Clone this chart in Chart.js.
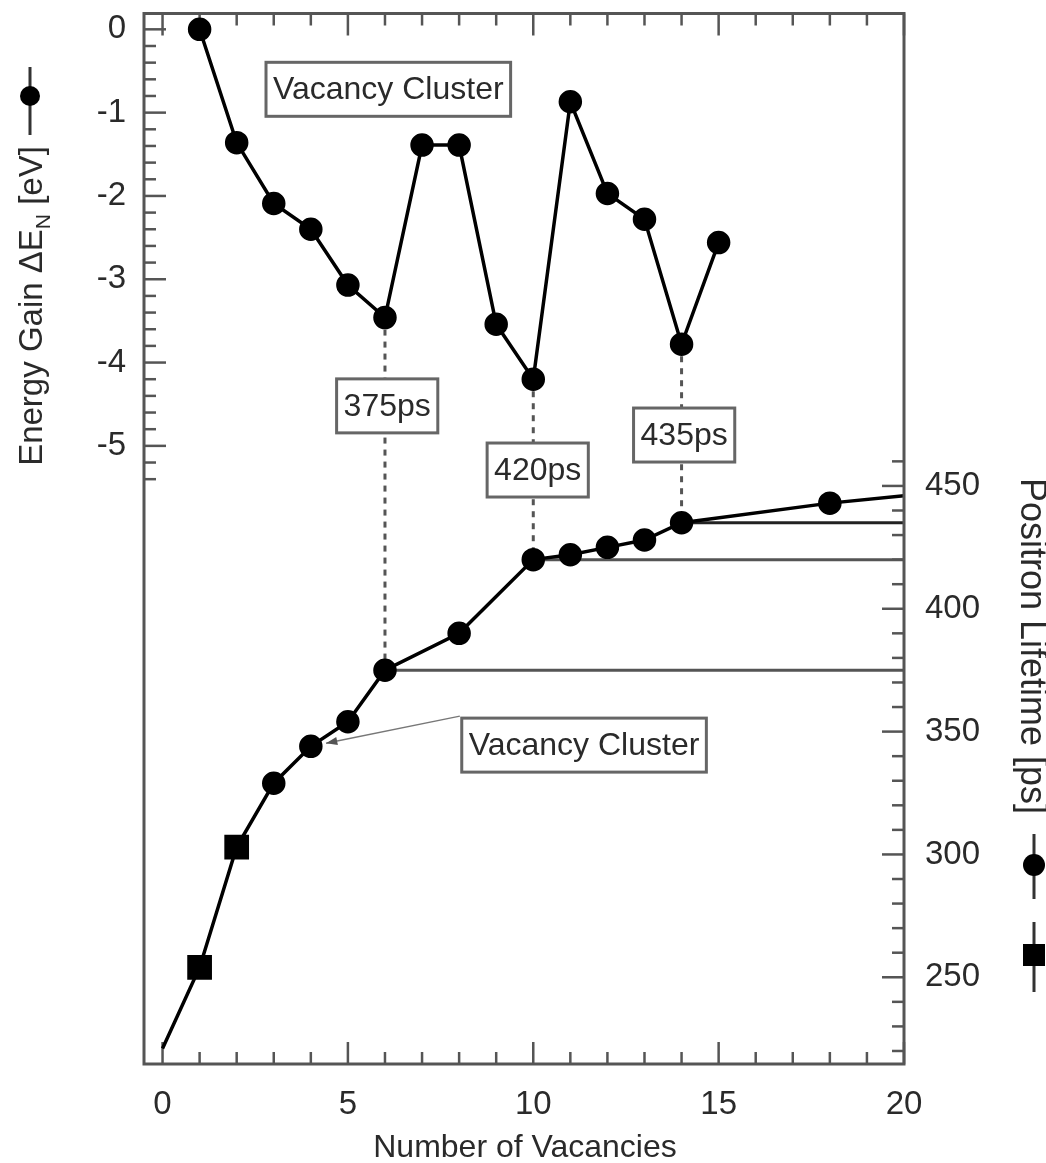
<!DOCTYPE html>
<html>
<head>
<meta charset="utf-8">
<script src="https://cdn.jsdelivr.net/npm/chart.js@4.4.0/dist/chart.umd.min.js"></script>
<style>
  html, body { margin: 0; padding: 0; background: #fff; }
  #c { display: block; }
</style>
</head>
<body>
<canvas id="c" width="1046" height="1163"></canvas>
<script>
// ganancia de energia del cluster (eje izquierdo)
const nEnergia = [1, 2, 3, 4, 5, 6, 7, 8, 9, 10, 11, 12, 13, 14, 15];
const energia = [0, -1.36, -2.09, -2.40, -3.07, -3.46, -1.39, -1.39, -3.54, -4.20, -0.87, -1.97, -2.28, -3.78, -2.56];

// tiempo de vida del positron (eje derecho)
const nVida = [0, 1, 2, 3, 4, 5, 6, 8, 10, 11, 12, 13, 14, 18, 20];
const vida = [221, 254, 303, 329, 344, 354, 375, 390, 420, 422, 425, 428, 435, 443, 446];
const formaVida = ['circle', 'rect', 'rect', 'circle', 'circle', 'circle', 'circle', 'circle',
                   'circle', 'circle', 'circle', 'circle', 'circle', 'circle', 'circle'];

// niveles marcados (ps) y donde empiezan
const nNiveles = [6, 10, 14];
const niveles = [375, 420, 435];
const etiquetasNiveles = ['375ps', '420ps', '435ps'];

// ticks
const ticksX = [0, 5, 10, 15, 20];
const ticksE = [0, -1, -2, -3, -4, -5];
const ticksV = [250, 300, 350, 400, 450];

const fuente = '"Liberation Sans", Arial, Helvetica, sans-serif';
const colorTexto = '#2a2a2a';
const colorMarco = '#555';

const datasets = [
  {
    label: 'Energy',
    yAxisID: 'yE',
    data: nEnergia.map((n, i) => ({ x: n, y: energia[i] })),
    borderColor: '#000',
    backgroundColor: '#000',
    borderWidth: 3.5,
    pointRadius: 10,
    pointStyle: 'circle',
    tension: 0
  },
  {
    label: 'Lifetime',
    yAxisID: 'yL',
    data: nVida.map((n, i) => ({ x: n, y: vida[i] })),
    borderColor: '#000',
    backgroundColor: '#000',
    borderWidth: 3.5,
    pointStyle: formaVida,
    pointRadius: nVida.map((n, i) => (n === 0 || n === 20) ? 0 : (formaVida[i] === 'rect' ? 15 : 10)),
    tension: 0
  }
];
nNiveles.forEach((n, i) => {
  datasets.push({
    label: etiquetasNiveles[i],
    yAxisID: 'yL',
    data: [{ x: n, y: niveles[i] }, { x: 20, y: niveles[i] }],
    borderColor: i === 2 ? '#222' : '#555',
    borderWidth: 3,
    pointRadius: 0
  });
});

// cajas de texto, en coordenadas de datos
const cajas = [
  { texto: 'Vacancy Cluster', x: 6.09, y: -0.72, eje: 'yE' },
  { texto: '375ps', x: 6.06, y: -4.52, eje: 'yE' },
  { texto: '420ps', x: 10.12, y: -5.29, eje: 'yE' },
  { texto: '435ps', x: 14.07, y: -4.87, eje: 'yE' },
  { texto: 'Vacancy Cluster', x: 11.37, y: 344.5, eje: 'yL' }
];
const flecha = { x0: 8.02, y0: 356.3, x1: 4.41, y1: 345.3 };

function rango(desde, hasta, paso) {
  const r = [];
  for (let v = desde; v <= hasta + 1e-9; v += paso) r.push(Math.round(v * 100) / 100);
  return r;
}

function marca(ctx, x0, y0, x1, y1) {
  ctx.beginPath();
  ctx.moveTo(x0, y0);
  ctx.lineTo(x1, y1);
  ctx.stroke();
}

function sinRelleno(s) {
  s.paddingTop = 0;
  s.paddingBottom = 0;
  s.paddingLeft = 0;
  s.paddingRight = 0;
}

const marco = {
  id: 'marco',
  beforeDatasetsDraw(chart) {
    const ctx = chart.ctx;
    const a = chart.chartArea;
    const sx = chart.scales.x, sE = chart.scales.yE, sL = chart.scales.yL;
    ctx.save();
    ctx.strokeStyle = colorMarco;
    ctx.lineWidth = 2.5;
    // eje x abajo y arriba
    rango(0, 20, 1).forEach(v => {
      const p = sx.getPixelForValue(v);
      const l = v % 5 === 0 ? 22 : 12;
      marca(ctx, p, a.bottom, p, a.bottom - l);
      marca(ctx, p, a.top, p, a.top + l);
    });
    // eje energia
    rango(0, 5.4, 0.2).forEach(v => {
      const p = sE.getPixelForValue(-v);
      const l = Math.abs(v - Math.round(v)) < 1e-6 ? 22 : 12;
      marca(ctx, a.left, p, a.left + l, p);
    });
    // eje tiempo de vida
    rango(220, 460, 10).forEach(v => {
      const p = sL.getPixelForValue(v);
      const l = v % 50 === 0 ? 22 : 12;
      marca(ctx, a.right, p, a.right - l, p);
    });
    // lineas discontinuas entre ambos graficos
    ctx.setLineDash([6, 6]);
    ctx.strokeStyle = '#555';
    ctx.lineWidth = 3;
    nNiveles.forEach((n, i) => {
      const px = sx.getPixelForValue(n);
      const y0 = sE.getPixelForValue(energia[nEnergia.indexOf(n)]);
      const y1 = sL.getPixelForValue(niveles[i]);
      marca(ctx, px, y0, px, y1);
    });
    ctx.restore();
  },
  afterDatasetsDraw(chart) {
    const ctx = chart.ctx;
    const a = chart.chartArea;
    const sx = chart.scales.x;
    ctx.save();
    // flecha hacia el cluster
    const fx0 = sx.getPixelForValue(flecha.x0), fy0 = chart.scales.yL.getPixelForValue(flecha.y0);
    const fx1 = sx.getPixelForValue(flecha.x1), fy1 = chart.scales.yL.getPixelForValue(flecha.y1);
    ctx.strokeStyle = '#777';
    ctx.lineWidth = 1.5;
    marca(ctx, fx0, fy0, fx1, fy1);
    const ang = Math.atan2(fy1 - fy0, fx1 - fx0);
    ctx.fillStyle = '#555';
    ctx.beginPath();
    ctx.moveTo(fx1, fy1);
    ctx.lineTo(fx1 - 12 * Math.cos(ang - 0.35), fy1 - 12 * Math.sin(ang - 0.35));
    ctx.lineTo(fx1 - 12 * Math.cos(ang + 0.35), fy1 - 12 * Math.sin(ang + 0.35));
    ctx.closePath();
    ctx.fill();

    // cajas
    ctx.font = '32px ' + fuente;
    ctx.textAlign = 'center';
    ctx.textBaseline = 'middle';
    cajas.forEach(c => {
      const cx = sx.getPixelForValue(c.x);
      const cy = chart.scales[c.eje].getPixelForValue(c.y);
      const w = ctx.measureText(c.texto).width + 14;
      const h = 54;
      ctx.fillStyle = '#fff';
      ctx.fillRect(cx - w / 2, cy - h / 2, w, h);
      ctx.strokeStyle = '#666';
      ctx.lineWidth = 3;
      ctx.strokeRect(cx - w / 2, cy - h / 2, w, h);
      ctx.fillStyle = colorTexto;
      ctx.fillText(c.texto, cx, cy + 1);
    });

    // marco del grafico
    ctx.strokeStyle = colorMarco;
    ctx.lineWidth = 3;
    ctx.strokeRect(a.left, a.top, a.right - a.left, a.bottom - a.top);

    // titulos
    ctx.fillStyle = colorTexto;
    ctx.textAlign = 'center';
    ctx.textBaseline = 'alphabetic';
    ctx.font = '32px ' + fuente;
    ctx.fillText('Number of Vacancies', (a.left + a.right) / 2 + 1, 1157);

    // titulo izquierdo, con simbolo
    ctx.save();
    ctx.translate(33, 306);
    ctx.rotate(-Math.PI / 2);
    ctx.textBaseline = 'middle';
    ctx.textAlign = 'left';
    const t1 = 'Energy Gain \u0394E', t2 = 'N', t3 = ' [eV]';
    ctx.font = '33px ' + fuente;
    const w1 = ctx.measureText(t1).width, w3 = ctx.measureText(t3).width;
    ctx.font = '21px ' + fuente;
    const w2 = ctx.measureText(t2).width;
    const x = -(w1 + w2 + w3) / 2;
    ctx.font = '33px ' + fuente;
    ctx.fillText(t1, x, 0);
    ctx.font = '21px ' + fuente;
    ctx.fillText(t2, x + w1, 11);
    ctx.font = '33px ' + fuente;
    ctx.fillText(t3, x + w1 + w2, 0);
    ctx.restore();
    ctx.strokeStyle = '#333';
    ctx.lineWidth = 3;
    marca(ctx, 30, 67, 30, 135);
    ctx.fillStyle = '#000';
    ctx.beginPath();
    ctx.arc(30, 96, 10, 0, Math.PI * 2);
    ctx.fill();

    // titulo derecho, con simbolos
    ctx.save();
    ctx.translate(1031, 646);
    ctx.rotate(Math.PI / 2);
    ctx.font = '36px ' + fuente;
    ctx.fillStyle = colorTexto;
    ctx.textAlign = 'center';
    ctx.textBaseline = 'middle';
    ctx.fillText('Positron Lifetime [ps]', 0, 0);
    ctx.restore();
    ctx.strokeStyle = '#333';
    marca(ctx, 1034, 834, 1034, 899);
    marca(ctx, 1034, 922, 1034, 992);
    ctx.fillStyle = '#000';
    ctx.beginPath();
    ctx.arc(1034, 865, 11, 0, Math.PI * 2);
    ctx.fill();
    ctx.fillRect(1023, 944, 22, 22);
    ctx.restore();
  }
};

new Chart(document.getElementById('c'), {
  type: 'line',
  data: { datasets: datasets },
  options: {
    responsive: false,
    animation: false,
    layout: { padding: { top: 10, left: 0, right: 0, bottom: 0 } },
    plugins: { legend: { display: false }, tooltip: { enabled: false } },
    scales: {
      x: {
        type: 'linear',
        min: -0.5,
        max: 20,
        afterBuildTicks: s => { s.ticks = ticksX.map(v => ({ value: v })); },
        afterFit: s => { s.height = 99; sinRelleno(s); },
        grid: { display: false },
        border: { display: false },
        ticks: { color: colorTexto, font: { family: fuente, size: 33 }, padding: 13, maxRotation: 0 }
      },
      yE: {
        type: 'linear',
        position: 'left',
        min: -12.42,
        max: 0.19,
        afterBuildTicks: s => { s.ticks = ticksE.map(v => ({ value: v })); },
        afterFit: s => { s.width = 144; sinRelleno(s); },
        grid: { display: false },
        border: { display: false },
        ticks: { color: colorTexto, font: { family: fuente, size: 33 }, padding: 10, callback: v => String(v) }
      },
      yL: {
        type: 'linear',
        position: 'right',
        min: 214.7,
        max: 642.3,
        afterBuildTicks: s => { s.ticks = ticksV.map(v => ({ value: v })); },
        afterFit: s => { s.width = 142; sinRelleno(s); },
        grid: { display: false },
        border: { display: false },
        ticks: { color: colorTexto, font: { family: fuente, size: 33 }, padding: 13 }
      }
    }
  },
  plugins: [marco]
});
</script>
</body>
</html>
